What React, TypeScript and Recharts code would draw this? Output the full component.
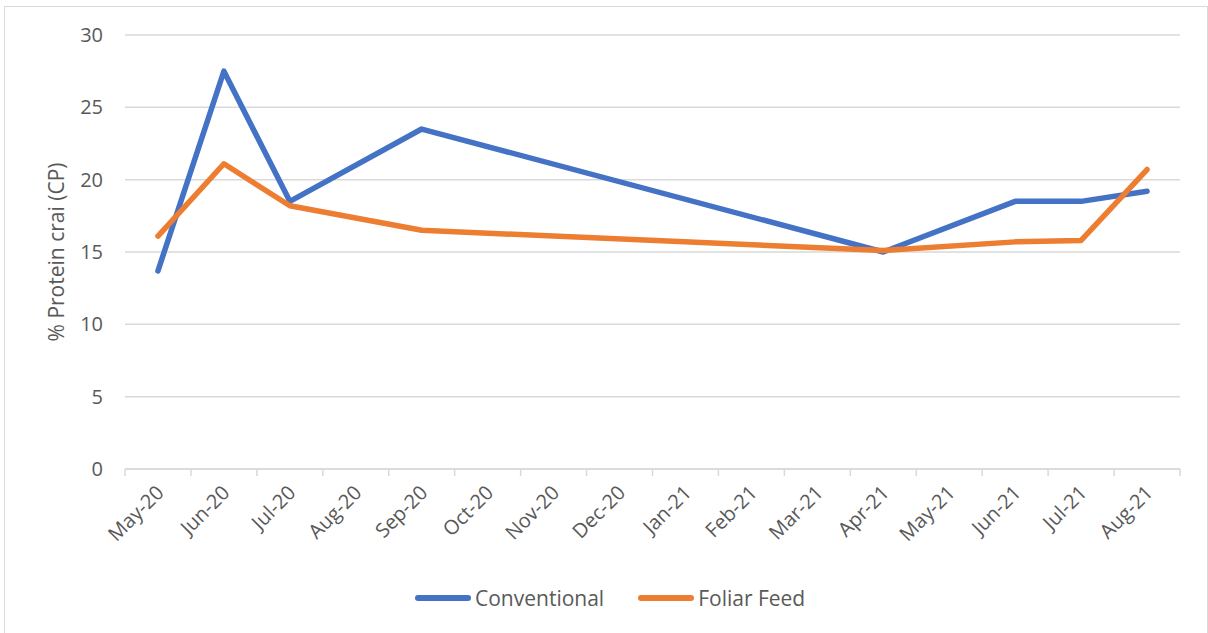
import React from 'react'
import { LineChart, Line, XAxis, YAxis, CartesianGrid } from 'recharts'

// month slots on the x axis, one label each
const months = [
  'May-20', 'Jun-20', 'Jul-20', 'Aug-20', 'Sep-20', 'Oct-20', 'Nov-20', 'Dec-20',
  'Jan-21', 'Feb-21', 'Mar-21', 'Apr-21', 'May-21', 'Jun-21', 'Jul-21', 'Aug-21',
]

// crude protein (%) per sampling month, null where no sample was taken
const conventional = [13.7, 27.5, 18.5, null, 23.5, null, null, null, null, null, null, 15.0, null, 18.5, 18.5, 19.2]
const foliarFeed = [16.1, 21.1, 18.2, null, 16.5, null, null, null, null, null, null, 15.1, null, 15.7, 15.8, 20.7]

const yTicks = [0, 5, 10, 15, 20, 25, 30]

const SERIES = [
  { key: 'conventional', name: 'Conventional', color: '#4472C4' },
  { key: 'foliar', name: 'Foliar Feed', color: '#ED7D31' },
]

const FONT = '"Open Sans", sans-serif'
const TEXT = '#595959'
const GRID = '#d9d9d9'

// each value sits in the middle of its month slot
const data = months.map((m, i) => ({
  pos: i + 0.5,
  month: m,
  conventional: conventional[i],
  foliar: foliarFeed[i],
}))

const slotTicks = Array.from({ length: months.length + 1 }, (_, i) => i)

function MonthTick(props: any) {
  const { x, y, payload } = props
  const label = months[payload.value]
  if (!label) return null
  // labels are centred on the slot, half a slot right of the boundary tick
  const cx = x + 33
  return (
    <text
      x={0}
      y={0}
      transform={`translate(${cx + 7},${y + 16}) rotate(-45)`}
      textAnchor="end"
      fill={TEXT}
      fontSize={20}
      fontFamily={FONT}
    >
      {label}
    </text>
  )
}

export default function App() {
  return (
    <div style={{ position: 'absolute', left: 0, top: 0, width: 1208, height: 633, background: '#fff', fontFamily: FONT }}>
      <div
        style={{
          position: 'absolute',
          left: 4,
          top: 6,
          width: 1202,
          height: 640,
          border: `1px solid ${GRID}`,
        }}
      />
      <LineChart
        width={1208}
        height={633}
        data={data}
        margin={{ top: 35, right: 28, bottom: 74, left: 65 }}
        style={{ position: 'absolute', left: 0, top: 0 }}
      >
        <CartesianGrid vertical={false} stroke={GRID} strokeWidth={1.5} />
        <XAxis
          dataKey="pos"
          type="number"
          domain={[0, months.length]}
          ticks={slotTicks}
          interval={0}
          height={90}
          stroke={GRID}
          strokeWidth={1.5}
          tickSize={7}
          tick={<MonthTick />}
        />
        <YAxis
          domain={[0, 30]}
          ticks={yTicks}
          width={60}
          axisLine={false}
          tickLine={false}
          tickSize={0}
          tickMargin={22}
          tick={{ fill: TEXT, fontSize: 20, fontFamily: FONT }}
          label={{
            value: '% Protein crai (CP)',
            angle: -90,
            position: 'insideLeft',
            offset: -8,
            style: { fill: TEXT, fontSize: 21, fontFamily: FONT, textAnchor: 'middle' },
          }}
        />
        {SERIES.map((s) => (
          <Line
            key={s.key}
            dataKey={s.key}
            name={s.name}
            type="linear"
            stroke={s.color}
            strokeWidth={5.5}
            strokeLinecap="round"
            strokeLinejoin="round"
            dot={false}
            connectNulls
            isAnimationActive={false}
          />
        ))}
      </LineChart>
      <div style={{ position: 'absolute', top: 585, left: 415, display: 'flex', alignItems: 'center' }}>
        {SERIES.map((s, i) => (
          <div key={s.key} style={{ display: 'flex', alignItems: 'center', marginLeft: i === 0 ? 0 : 34 }}>
            <div style={{ width: 56, height: 5.5, borderRadius: 3, background: s.color, marginRight: 4 }} />
            <span style={{ color: TEXT, fontSize: 21, lineHeight: '26px' }}>{s.name}</span>
          </div>
        ))}
      </div>
    </div>
  )
}
